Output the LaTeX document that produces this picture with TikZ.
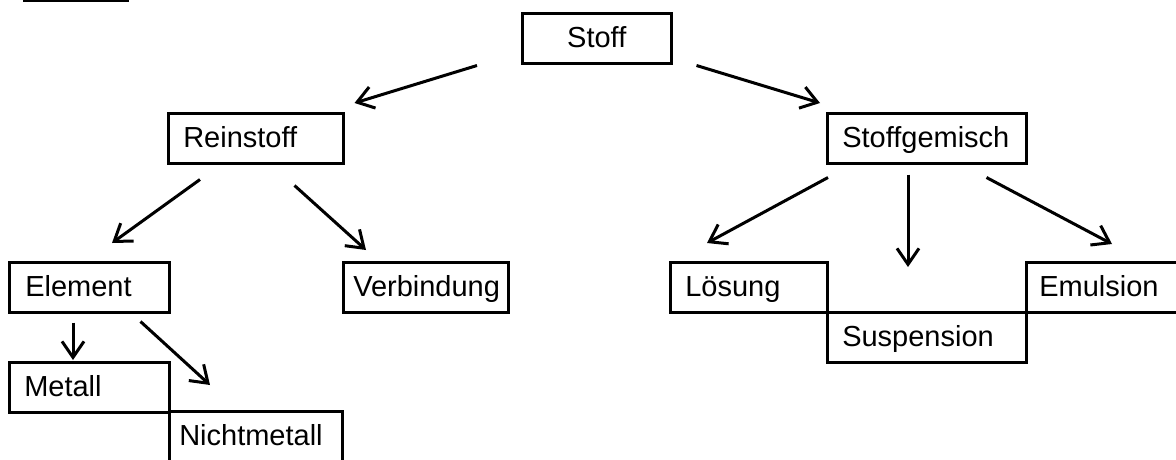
\documentclass[tikz,border=0pt]{standalone}
\usepackage{fontspec}
\setmainfont{Liberation Sans}
\usepackage{tikz}
\usetikzlibrary{arrows.meta}

\begin{document}
\begin{tikzpicture}[x=1pt, y=-1pt,
	    box/.style={draw, line width=2.5pt, anchor=north west, minimum height=50pt,
	        inner xsep=15pt, inner ysep=0pt, text height=21pt, text depth=2pt,
	        align=left, font=\fontsize{29}{34}\selectfont},
	    pfeil/.style={line width=3pt, -{Straight Barb[length=16pt,width=22pt,line width=3pt]}}]
	    \useasboundingbox (0,0) rectangle (1176,459);
	    \clip (0,0) rectangle (1176,459);
	    \draw[line width=2.5pt] (23,1) -- (129,1);
	    \node[box, text width=119pt, align=center] (stoff) at (521,12) {Stoff};
	    \node[box, text width=145pt] (reinstoff) at (167,112) {Reinstoff};
	    \node[box, text width=169pt] (gemisch) at (826,112) {Stoffgemisch};
	    \node[box, text width=128pt, inner xsep=16pt] (element) at (8,261) {Element};
	    \node[box, text width=145pt, inner xsep=10pt] (verbindung) at (342,261) {Verbindung};
	    \node[box, text width=127pt] (loesung) at (669,261) {Lösung};
	    \node[box, text width=169pt] (suspension) at (826,311) {Suspension};
	    \node[box, text width=180pt, inner xsep=13pt] (emulsion) at (1025,261) {Emulsion};
	    \node[box, text width=130pt] (metall) at (8,361) {Metall};
	    \node[box, text width=153pt, inner xsep=10pt, minimum height=60pt, text depth=12pt] (nichtmetall) at (168,410) {Nichtmetall};
	    \draw[pfeil] ([shift={(-44,1)}]stoff.south west) -- ([shift={(10,-9)}]reinstoff.north east);
	    \draw[pfeil] ([shift={(24,1)}]stoff.south east) -- ([shift={(-6,-9)}]gemisch.north west);
	    \draw[pfeil] ([shift={(33,15)}]reinstoff.south west) -- ([shift={(104,-18)}]element.north west);
	    \draw[pfeil] ([shift={(-50,21)}]reinstoff.south east) -- ([shift={(24,-11)}]verbindung.north west);
	    \draw[pfeil] ([shift={(65,9)}]element.south west) -- ([shift={(65,-1)}]metall.north west);
	    \draw[pfeil] ([shift={(-30,8)}]element.south east) -- ([shift={(42,-25)}]nichtmetall.north west);
	    \draw[pfeil] ([shift={(2,13)}]gemisch.south west) -- ([shift={(38,-18)}]loesung.north west);
	    \draw[pfeil] ([shift={(82,10)}]gemisch.south west) -- ([shift={(82,-44)}]suspension.north west);
	    \draw[pfeil] ([shift={(-41,13)}]gemisch.south east) -- ([shift={(87,-17)}]emulsion.north west);
\end{tikzpicture}
\end{document}
